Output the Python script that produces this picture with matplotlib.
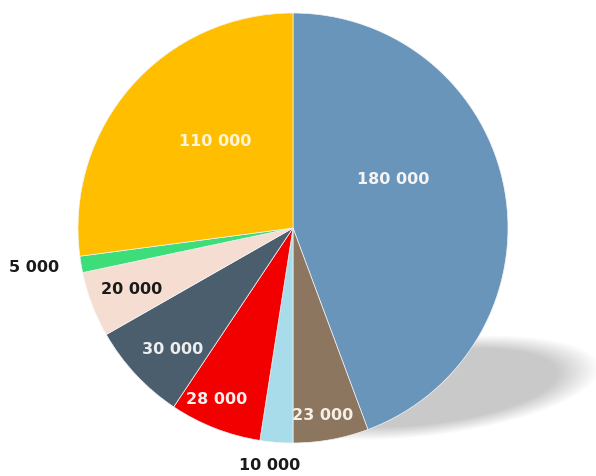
import matplotlib.pyplot as plt
import numpy as np

# slice values, clockwise from 12 o'clock
values = [180000, 23000, 10000, 28000, 30000, 20000, 5000, 110000]
labels = ["180 000", "23 000", "10 000", "28 000", "30 000", "20 000", "5 000", "110 000"]
colors = ["#6A95BB", "#8C7660", "#A9DCEA", "#F20000", "#4A5E6E", "#F6DDD1", "#3DDD7A", "#FFBF00"]
text_colors = ["#F4F4F4", "#F5F0E6", "#1A1A1A", "#F8EEEE", "#EEEEEE", "#1A1A1A", "#1A1A1A", "#FFF6DA"]

# layout (pixel positions, y measured from the top)
W, H = 596, 476
CENTER = (293, 228)
RADIUS = 215
label_pos = [(393, 180), (323, 415), (270, 465), (217, 400),
             (173, 350), (132, 290), (34, 267), (215, 142)]


def draw_shadow(ax):
    # soft grey ellipse to the lower right of the pie
    cx, cy = 428, H - 388
    a, b = 158, 44
    ang = np.deg2rad(7)
    xs = np.linspace(0, W, W)
    ys = np.linspace(0, H, H)
    X, Y = np.meshgrid(xs, ys)
    dx, dy = X - cx, Y - cy
    u = dx * np.cos(ang) + dy * np.sin(ang)
    v = -dx * np.sin(ang) + dy * np.cos(ang)
    d = np.sqrt((u / a) ** 2 + (v / b) ** 2)
    alpha = np.clip((1.1 - d) / 0.28, 0, 1) * 0.95
    img = np.zeros((H, W, 4))
    img[..., :3] = 0.78
    img[..., 3] = alpha
    ax.imshow(img, extent=(0, W, 0, H), origin="lower", zorder=0, interpolation="bilinear")


fig = plt.figure(figsize=(W / 100, H / 100), dpi=100)
ax = fig.add_axes([0, 0, 1, 1])

draw_shadow(ax)

ax.pie(values, colors=colors, startangle=90, counterclock=False,
       center=(CENTER[0], H - CENTER[1]), radius=RADIUS,
       wedgeprops=dict(linewidth=0.5, edgecolor="#F4F4F4"), frame=True)

for lab, (x, y), c in zip(labels, label_pos, text_colors):
    ax.text(x, H - y, lab, ha="center", va="center", color=c,
            fontsize=11.5, fontweight="bold", family="DejaVu Sans", zorder=5)

ax.set_xlim(0, W)
ax.set_ylim(0, H)
ax.set_aspect("equal")
ax.axis("off")

plt.savefig("out.png", dpi=100)
plt.close()
